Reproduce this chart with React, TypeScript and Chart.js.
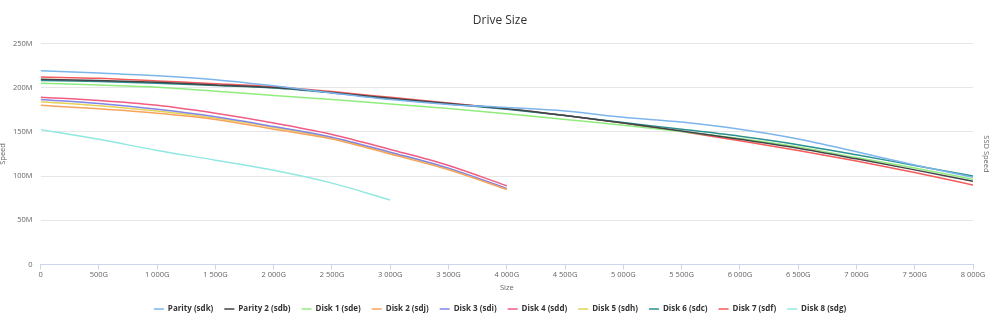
import React, { useEffect, useRef } from "react";
import { Chart, registerables } from "chart.js";

Chart.register(...registerables);

const sizes = [0, 500, 1000, 1500, 2000, 2500, 3000, 3500, 4000, 4500, 5000, 5500, 6000, 6500, 7000, 7500, 8000];

const parity = [219, 216.5, 213.5, 209, 202, 194, 186.5, 181, 177.5, 173.5, 166.5, 161, 153, 142, 127.5, 112.5, 98.5];
const parity2 = [209.5, 208, 206, 203, 200, 194.5, 188, 182, 176, 168.5, 160, 151, 141.5, 131.5, 119.5, 107, 94];
const disk1 = [205, 203, 200.5, 196, 191, 186.5, 181.5, 176.5, 170.5, 164, 157.5, 150.5, 142.5, 133, 121, 109, 96.5];
const disk2 = [180, 176, 171, 164, 153, 142, 125, 107, 85];
const disk3 = [186.5, 182, 175.5, 167, 156, 144, 127, 109, 86];
const disk4 = [189, 185.5, 180, 171, 160, 147, 130, 112, 89];
const disk5 = [184, 179.5, 173.5, 165.5, 155, 143, 126, 108, 85];
const disk6 = [208, 207, 205, 202.5, 199.5, 194, 187.5, 181.5, 175.5, 168.5, 160.5, 153, 145, 135.5, 124, 112, 100];
const disk7 = [212, 210.5, 207.5, 204.5, 201, 195.5, 189, 182.5, 176, 168.5, 160, 150.5, 140, 129, 117, 104, 90];
const disk8 = [152.5, 141.5, 129, 118, 106.5, 92, 73];

const seriesNames = [
  "Parity (sdk)",
  "Parity 2 (sdb)",
  "Disk 1 (sde)",
  "Disk 2 (sdj)",
  "Disk 3 (sdi)",
  "Disk 4 (sdd)",
  "Disk 5 (sdh)",
  "Disk 6 (sdc)",
  "Disk 7 (sdf)",
  "Disk 8 (sdg)",
];
const seriesValues = [parity, parity2, disk1, disk2, disk3, disk4, disk5, disk6, disk7, disk8];
const seriesColors = ["#7cb5ec", "#434348", "#90ed7d", "#f7a35c", "#8085e9", "#f15c80", "#e4d354", "#2b908f", "#f45b5b", "#91e8e1"];

const FONT = "'Open Sans', 'Liberation Sans', sans-serif";

function fmtSize(v: number): string {
  if (v === 0) return "0";
  const s = String(v);
  const withSep = s.length > 3 ? s.slice(0, s.length - 3) + " " + s.slice(s.length - 3) : s;
  return withSep + "G";
}

export default function App() {
  const ref = useRef<HTMLCanvasElement | null>(null);
  useEffect(() => {
    if (!ref.current) return;
    const datasets = seriesNames.map((name, i) => ({
      label: name,
      data: seriesValues[i].map((v, j) => ({ x: sizes[j], y: v })),
      borderColor: seriesColors[i],
      backgroundColor: seriesColors[i],
      borderWidth: 1.5,
      pointRadius: 0,
      pointHoverRadius: 0,
      pointStyle: "line" as const,
      cubicInterpolationMode: "monotone" as const,
      fill: false,
      yAxisID: "y",
    }));
    const chart = new Chart(ref.current, {
      type: "line",
      data: { datasets },
      options: {
        animation: false,
        responsive: true,
        maintainAspectRatio: false,
        layout: { padding: { left: 0, right: 0, top: 0, bottom: 10 } },
        plugins: {
          title: {
            display: true,
            text: "Drive Size",
            color: "#333333",
            font: { family: FONT, size: 12, weight: "normal" },
            padding: { top: 13, bottom: 16 },
          },
          legend: {
            position: "bottom",
            labels: {
              usePointStyle: true,
              pointStyle: "line",
              pointStyleWidth: 10,
              boxHeight: 8,
              color: "#333333",
              font: { family: FONT, size: 8, weight: "bold" },
              padding: 11,
            },
          },
          tooltip: { enabled: false },
        },
        scales: {
          x: {
            type: "linear",
            min: 0,
            max: 8000,
            ticks: {
              stepSize: 500,
              color: "#666666",
              font: { family: FONT, size: 7.5 },
              padding: 1,
              maxRotation: 0,
              autoSkip: false,
              callback: (v: any) => fmtSize(Number(v)),
            },
            grid: { drawOnChartArea: false, color: "#ccd6eb", tickLength: 5 },
            border: { color: "#ccd6eb" },
            title: {
              display: true,
              text: "Size",
              color: "#666666",
              font: { family: FONT, size: 7.5 },
              padding: { top: 2.5, bottom: 2 },
            },
          },
          y: {
            position: "left",
            min: 0,
            max: 250,
            ticks: {
              stepSize: 50,
              color: "#666666",
              font: { family: FONT, size: 7.5 },
              padding: 8,
              callback: (v: any) => (Number(v) === 0 ? "0" : v + "M"),
            },
            grid: { color: "#e6e6e6", drawTicks: false },
            border: { display: false },
            title: {
              display: true,
              text: "Speed",
              color: "#666666",
              font: { family: FONT, size: 7.5 },
              padding: { top: -2, bottom: -2 },
            },
          },
          y2: {
            position: "right",
            min: 0,
            max: 250,
            ticks: { display: false },
            grid: { display: false, drawTicks: false },
            border: { display: false },
            title: {
              display: true,
              text: "SSD Speed",
              color: "#666666",
              font: { family: FONT, size: 7.5 },
              padding: { top: 9, bottom: 9 },
            },
          },
        },
      },
    });
    return () => chart.destroy();
  }, []);
  return (
    <div style={{ position: "absolute", left: 0, top: 0, width: 1000, height: 333 }}>
      <canvas ref={ref} />
    </div>
  );
}
